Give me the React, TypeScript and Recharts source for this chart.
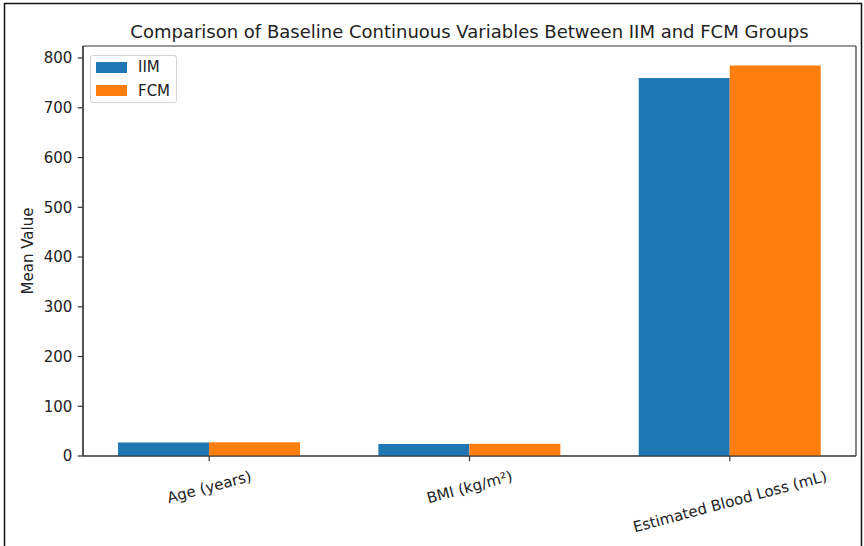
import React from "react";
import { BarChart, Bar, XAxis, YAxis, Legend, CartesianGrid } from "recharts";

const categories = ["Age (years)", "BMI (kg/m²)", "Estimated Blood Loss (mL)"];
const iimValues = [27.2, 24.3, 760];
const fcmValues = [27.5, 24.6, 785];
const yTicks = [0, 100, 200, 300, 400, 500, 600, 700, 800];
const seriesNames = ["IIM", "FCM"];
const colors = ["#1f77b4", "#ff7f0e"];

const data = categories.map((c, i) => ({ name: c, IIM: iimValues[i], FCM: fcmValues[i] }));

const FONT = '"DejaVu Sans", sans-serif';
const TXT = "#222";
const AX = "#333";
const FS = 15;

let ctx: CanvasRenderingContext2D | null = null;
function measure(s: string, fs: number) {
  if (!ctx) ctx = document.createElement("canvas").getContext("2d");
  if (!ctx) return s.length * fs * 0.6;
  ctx.font = `${fs}px "DejaVu Sans"`;
  return ctx.measureText(s).width;
}

const XTick = (props: any) => {
  const { x, y, payload } = props;
  const fs = FS;
  const label = String(payload.value);
  const w = measure(label, fs);
  const h = fs * 1.164;
  const th = (15 * Math.PI) / 180;
  const H = w * Math.sin(th) + h * Math.cos(th);
  const cy = y + 0.5 + H / 2;
  return (
    <text
      x={x}
      y={cy}
      dy="0.36em"
      textAnchor="middle"
      fontSize={fs}
      fontFamily={FONT}
      fill={TXT}
      transform={`rotate(-15, ${x}, ${cy})`}
    >
      {label}
    </text>
  );
};

const YTick = (props: any) => {
  const { x, y, payload } = props;
  return (
    <text x={x} y={y} dy="0.36em" textAnchor="end" fontSize={FS} fontFamily={FONT} fill={TXT}>
      {payload.value}
    </text>
  );
};

const LegendBox = () => (
  <div
    style={{
      position: "relative",
      width: 87,
      height: 48,
      boxSizing: "border-box",
      border: "1px solid #d4d4d4",
      borderRadius: 3,
      background: "rgba(255,255,255,0.8)",
      fontFamily: FONT,
      fontSize: FS,
      color: TXT,
    }}
  >
    {seriesNames.map((n, i) => (
      <React.Fragment key={n}>
        <div
          style={{
            position: "absolute",
            left: 5,
            top: 6 + i * 23.3,
            width: 31,
            height: 10.6,
            background: colors[i],
          }}
        />
        <div
          style={{
            position: "absolute",
            left: 47,
            top: 11.3 + i * 23.3,
            lineHeight: "0px",
            whiteSpace: "nowrap",
          }}
        >
          {n}
        </div>
      </React.Fragment>
    ))}
  </div>
);

export default function App() {
  return (
    <div style={{ position: "absolute", left: 0, top: 0, width: 864, height: 546, overflow: "hidden", background: "#fff" }}>
      <BarChart
        width={864}
        height={546}
        data={data}
        margin={{ top: 46, right: 8, left: 23, bottom: 0 }}
        barCategoryGap="15%"
        barGap={0}
      >
        <CartesianGrid
          stroke={AX}
          strokeWidth={1.2}
          horizontalCoordinatesGenerator={({ offset }: any) => [offset.top, offset.top + offset.height]}
          verticalCoordinatesGenerator={({ offset }: any) => [offset.left, offset.left + offset.width]}
        />
        <XAxis
          dataKey="name"
          height={90}
          padding={{ left: -4, right: -4 }}
          interval={0}
          tick={<XTick />}
          tickSize={5.3}
          tickMargin={5.3}
          axisLine={{ stroke: AX, strokeWidth: 1.2 }}
          tickLine={{ stroke: AX, strokeWidth: 1.2 }}
        />
        <YAxis
          width={60}
          domain={[0, (max: number) => max * 1.05]}
          ticks={yTicks}
          allowDataOverflow
          tick={<YTick />}
          tickSize={5.3}
          tickMargin={5.3}
          axisLine={{ stroke: AX, strokeWidth: 1.2 }}
          tickLine={{ stroke: AX, strokeWidth: 1.2 }}
        />
        <Legend
          layout="vertical"
          align="center"
          verticalAlign="middle"
          content={<LegendBox />}
          wrapperStyle={{ left: 90, top: 55, width: 87, height: 48 }}
        />
        {seriesNames.map((n, i) => (
          <Bar key={n} dataKey={n} name={n} fill={colors[i]} isAnimationActive={false} />
        ))}
      </BarChart>
      <svg
        width={864}
        height={546}
        style={{ position: "absolute", left: 0, top: 0, pointerEvents: "none" }}
      >
        <path d="M4.5,560 L4.5,3.5 L861.5,3.5 L861.5,560" fill="none" stroke="#111" strokeWidth={1.5} />
        <text x={469.5} y={37.7} textAnchor="middle" fontSize={18} fontFamily={FONT} fill={TXT}>
          Comparison of Baseline Continuous Variables Between IIM and FCM Groups
        </text>
        <text
          x={33}
          y={251}
          textAnchor="middle"
          fontSize={FS}
          fontFamily={FONT}
          fill={TXT}
          transform="rotate(-90, 33, 251)"
        >
          Mean Value
        </text>
      </svg>
    </div>
  );
}
